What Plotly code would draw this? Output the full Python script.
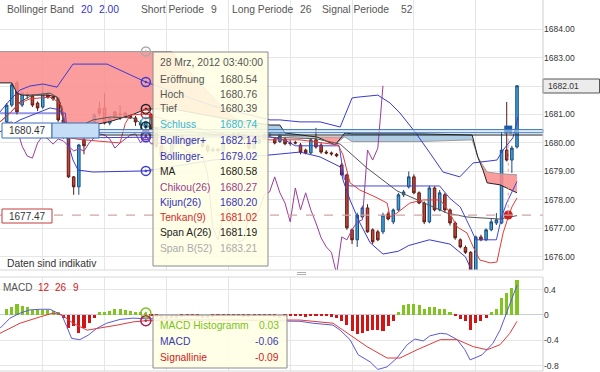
import plotly.graph_objects as go

W, H = 600, 372
PR = 543  # right edge of plot area in px


def px(x):
    return x / PR


def py(y):
    return 1 - y / H


# ---------------- data ----------------
idx = list(range(100))
opens = [1680.74, 1681.33, 1682.11, 1681.33, 1681.66, 1681.65, 1681.40, 1681.26, 1681.72, 1681.61,
         1681.58, 1680.81, 1680.18, 1678.81, 1678.46, 1680.11, 1680.40, 1680.70, 1681.20, 1681.23,
         1680.70, 1681.09, 1681.02, 1681.05, 1680.95, 1680.88, 1680.63, 1680.54, 1681.00, 1680.50,
         1679.89, 1679.54, 1679.47, 1680.00, 1680.25, 1680.14, 1679.96, 1680.14, 1680.07, 1679.89,
         1679.72, 1679.79, 1679.72, 1680.00, 1680.18, 1680.32, 1680.28, 1680.14, 1679.82, 1680.00,
         1680.14, 1680.28, 1680.14, 1680.05, 1680.14, 1680.00, 1680.02, 1679.93, 1679.75, 1679.65,
         1680.11, 1679.93, 1679.68, 1679.65, 1679.60, 1679.23, 1678.88, 1676.95, 1676.60, 1677.40,
         1677.72, 1676.95, 1676.88, 1676.88, 1677.51, 1677.23, 1677.65, 1678.18, 1678.46, 1678.81,
         1678.25, 1677.89, 1677.23, 1678.42, 1677.65, 1678.18, 1677.65, 1677.19, 1676.60, 1676.33,
         1676.16, 1675.30, 1676.70, 1676.60, 1676.95, 1677.19, 1677.19, 1679.75, 1679.40, 1679.86]
highs = [1681.40, 1682.11, 1682.18, 1681.80, 1681.78, 1681.70, 1681.46, 1682.08, 1681.80, 1681.70,
         1681.62, 1680.90, 1680.22, 1678.84, 1679.97, 1680.18, 1680.50, 1681.05, 1681.44, 1681.75,
         1680.88, 1681.12, 1681.33, 1681.09, 1681.00, 1680.95, 1680.80, 1680.76, 1681.05, 1680.55,
         1679.95, 1679.62, 1680.08, 1680.32, 1680.30, 1680.20, 1680.20, 1680.18, 1680.10, 1679.94,
         1679.86, 1679.84, 1680.06, 1680.24, 1680.40, 1680.38, 1680.32, 1680.18, 1680.06, 1680.20,
         1680.34, 1680.38, 1680.20, 1680.32, 1680.20, 1680.10, 1680.08, 1680.00, 1679.80, 1680.15,
         1680.53, 1680.00, 1679.75, 1679.70, 1679.65, 1679.30, 1678.92, 1677.00, 1677.55, 1677.80,
         1677.85, 1677.00, 1676.95, 1677.55, 1677.60, 1677.70, 1678.25, 1678.35, 1679.00, 1678.90,
         1678.30, 1677.95, 1678.50, 1678.48, 1678.35, 1678.25, 1677.70, 1677.25, 1676.65, 1676.40,
         1676.20, 1676.75, 1676.78, 1677.00, 1677.35, 1677.54, 1680.39, 1681.44, 1679.90, 1682.01]
lows = [1680.70, 1681.26, 1681.00, 1681.26, 1681.55, 1681.26, 1681.12, 1681.20, 1681.55, 1681.48,
        1680.74, 1680.15, 1678.77, 1678.18, 1678.18, 1679.60, 1680.20, 1680.65, 1680.95, 1680.65,
        1680.62, 1680.85, 1680.81, 1680.88, 1680.85, 1680.60, 1680.50, 1680.39, 1680.45, 1679.82,
        1679.48, 1679.40, 1679.42, 1679.95, 1680.08, 1679.90, 1679.92, 1680.00, 1679.84, 1679.66,
        1679.68, 1679.65, 1679.70, 1679.96, 1680.12, 1680.22, 1680.08, 1679.76, 1679.78, 1679.96,
        1680.10, 1680.22, 1679.95, 1680.00, 1679.92, 1679.90, 1679.95, 1679.60, 1679.60, 1679.60,
        1679.80, 1679.62, 1679.60, 1679.55, 1679.50, 1678.85, 1676.95, 1676.45, 1676.35, 1677.35,
        1676.85, 1676.45, 1676.55, 1676.80, 1677.28, 1677.15, 1677.60, 1678.10, 1678.40, 1678.20,
        1677.85, 1677.15, 1677.18, 1677.60, 1677.60, 1677.55, 1677.10, 1676.60, 1676.30, 1676.10,
        1675.30, 1675.20, 1676.55, 1676.55, 1676.90, 1677.12, 1677.15, 1679.35, 1678.95, 1679.80]
closes = [1681.33, 1682.04, 1681.09, 1681.75, 1681.68, 1681.33, 1681.23, 1681.75, 1681.61, 1681.55,
          1680.81, 1680.25, 1678.81, 1678.46, 1679.93, 1679.90, 1680.45, 1680.98, 1681.05, 1680.70,
          1680.88, 1680.91, 1681.00, 1680.91, 1680.88, 1680.74, 1680.70, 1680.74, 1680.50, 1679.89,
          1679.54, 1679.47, 1680.00, 1680.25, 1680.14, 1679.96, 1680.14, 1680.07, 1679.89, 1679.72,
          1679.79, 1679.72, 1680.00, 1680.18, 1680.32, 1680.28, 1680.14, 1679.82, 1680.00, 1680.14,
          1680.28, 1680.32, 1680.00, 1680.27, 1679.97, 1679.98, 1680.00, 1679.68, 1679.65, 1680.11,
          1679.86, 1679.68, 1679.65, 1679.62, 1679.55, 1678.88, 1677.02, 1676.60, 1677.47, 1677.72,
          1676.88, 1676.53, 1676.60, 1677.47, 1677.33, 1677.65, 1678.18, 1678.28, 1678.81, 1678.25,
          1677.89, 1677.23, 1678.42, 1677.65, 1678.25, 1677.65, 1677.19, 1676.67, 1676.35, 1676.16,
          1675.40, 1676.70, 1676.60, 1676.95, 1677.23, 1677.30, 1679.75, 1679.40, 1679.82, 1682.01]

# Bollinger bands (read points: candle index, price)
boll_up_x = [-1.29, 0.65, 2.59, 4.53, 7.05, 9.77, 10.7, 12.87, 19.47, 23.93, 27, 40, 51.08, 53.0, 56.9,
             60.8, 64.7, 67.0, 68.15, 72.0, 74.4, 76.3, 79.2, 82.1, 84.65, 87.9, 90.5, 95.1, 96.3, 98.2, 99.2]
boll_up_y = [1681.09, 1681.51, 1681.86, 1682.00, 1682.07, 1681.96, 1682.21, 1682.77, 1682.77, 1682.39,
             1682.14, 1681.30, 1680.81, 1680.81, 1680.74, 1680.74, 1680.56, 1681.58, 1681.61, 1681.68,
             1681.40, 1681.05, 1680.39, 1679.65, 1678.98, 1678.81, 1679.30, 1679.40, 1679.75, 1680.18, 1680.91]
boll_lo_x = [-1.29, 2.59, 6.47, 8.41, 10.35, 10.93, 11.9, 12.87, 13.84, 16.75, 27, 40, 51.08, 56.9,
             60.8, 64.7, 65.25, 66.6, 68.5, 70.5, 73.0, 76.0, 78.0, 82.0, 86.0, 89.0, 90.5, 92.0, 96.0, 99.0]
boll_lo_y = [1680.39, 1680.81, 1681.09, 1681.23, 1681.16, 1680.91, 1680.00, 1679.40, 1679.05, 1678.98,
             1679.02, 1679.40, 1679.58, 1679.68, 1679.51, 1679.16, 1678.70, 1678.00, 1677.20, 1676.50,
             1676.10, 1676.20, 1676.40, 1676.60, 1676.45, 1676.00, 1675.40, 1675.00, 1675.20, 1675.50]

ma_x = [-1.29, 0.65, 2.59, 5.0, 8.41, 9.77, 10.35, 10.93, 11.9, 13.84, 16.75, 20.05, 24.5, 27, 40, 51,
        60, 64.7, 69.9, 75.7, 81.5, 85.4, 89.3, 95.7, 99]
ma_y = [1680.74, 1681.05, 1681.44, 1681.68, 1681.75, 1681.61, 1681.40, 1680.81, 1680.39, 1680.56,
        1680.81, 1680.91, 1680.88, 1680.58, 1680.30, 1680.20, 1680.15, 1679.96, 1679.12, 1678.32,
        1677.85, 1677.54, 1677.40, 1677.33, 1677.45]

tenkan_x = [-1.29, 0.65, 2.59, 4.53, 8.41, 9.77, 10.7, 11.9, 13.84, 22.0, 23.0, 24.0, 27, 35, 45, 51.08,
            56.9, 60.2, 64.3, 65.25, 66.6, 68.5, 71.45, 73.8, 74.4, 75.7, 78.2, 80.8, 84.1, 85.6, 87.4,
            89.3, 90.5, 91.8, 93.8, 95.1, 96.3, 97.3, 98.0, 99.0]
tenkan_y = [1680.74, 1681.05, 1681.40, 1681.55, 1681.61, 1681.47, 1681.30, 1680.20, 1680.13, 1680.00,
            1680.68, 1680.98, 1681.02, 1680.60, 1680.20, 1680.11, 1680.11, 1680.04, 1679.93, 1679.58,
            1678.60, 1678.35, 1678.11, 1677.89, 1677.40, 1677.54, 1677.89, 1678.00, 1678.00, 1677.65,
            1677.05, 1676.84, 1676.35, 1675.89, 1675.79, 1675.82, 1676.84, 1677.40, 1677.75, 1678.07]

kijun_x = [-1.29, 11.4, 11.6, 12.5, 27, 51, 54, 56, 64.5, 65.5, 66.5, 84, 86, 88, 90, 91, 95, 96, 97, 99]
kijun_y = [1681.05, 1681.05, 1680.60, 1680.18, 1680.20, 1680.22, 1680.10, 1679.90, 1679.90, 1678.74,
           1678.49, 1678.49, 1678.05, 1677.75, 1677.00, 1676.60, 1676.60, 1677.40, 1677.90, 1678.65]

# Ichimoku cloud (span A / span B)
cloud_x = [-1.29, 1.0, 2.0, 3.0, 5.0, 8.0, 9.8, 10.4, 11.0, 11.9, 13.8, 16.8, 20.0, 24.5, 27.0,
           32, 38, 44, 51.1, 53.0, 54.0, 57.0, 60.2, 63.7, 65.6, 67.0, 80.0, 90.3, 91.4, 92.4, 93.2, 95.7, 99.0]
span_a = [1682.11, 1682.11, 1681.75, 1681.68, 1681.68, 1681.68, 1681.61, 1681.40, 1680.81, 1680.63,
          1680.63, 1680.63, 1680.75, 1681.00, 1681.19, 1681.20, 1681.00, 1680.80, 1680.63, 1680.63,
          1680.35, 1680.28, 1680.21, 1679.93, 1680.35, 1680.32, 1680.32, 1680.28, 1679.50, 1679.05,
          1678.60, 1678.53, 1678.25]
span_b = [1683.21, 1683.21, 1683.21, 1683.21, 1683.21, 1683.21, 1683.21, 1683.21, 1683.21, 1683.21,
          1683.21, 1683.21, 1683.21, 1683.21, 1683.21, 1683.21, 1682.00, 1680.90, 1680.28, 1680.28,
          1680.25, 1680.21, 1680.21, 1680.21, 1680.21, 1680.05, 1680.05, 1680.11, 1679.51, 1679.20,
          1678.98, 1678.92, 1678.88]

# MACD panel
macd_hist = [0.09, 0.13, 0.17, 0.14, 0.12, 0.08, 0.08, 0.08, 0.08, 0.07, 0.05,
             -0.05, -0.20, -0.17, -0.28, -0.20, -0.13, -0.04,
             0.04, 0.05, 0.07, 0.09, 0.09, 0.08, 0.07, 0.05, 0.04, 0.03,
             -0.02, -0.03, -0.05, -0.06, -0.05, -0.04, -0.03, -0.02, -0.02, -0.03, -0.04, -0.04,
             -0.03, -0.02, -0.01, -0.01, -0.02, -0.02, -0.03, -0.03, -0.02, -0.02, -0.01, -0.01,
             -0.03, -0.04, -0.03, -0.02, -0.02, -0.02, -0.03, -0.02, -0.02, -0.02, -0.02, -0.03, -0.05,
             -0.10, -0.16, -0.26, -0.30, -0.28, -0.26, -0.24, -0.23, -0.26, -0.18, -0.10,
             0.04, 0.16, 0.18, 0.18, 0.16, 0.09, 0.13, 0.12, 0.10, 0.10, 0.05,
             -0.02, -0.07, -0.10, -0.23, -0.13, -0.09, -0.04,
             0.04, 0.09, 0.27, 0.34, 0.42, 0.56]
macd_x = [-1.29, 0.65, 2.6, 4.5, 6.5, 8.4, 9.4, 10.7, 11.65, 12.6, 14.2, 15.8, 17.5, 19.4, 22.0, 24.5, 27,
          40, 50, 56.9, 59.4, 63.3, 64.7, 66.6, 68.2, 70.5, 72.0, 73.8, 75.7, 77.7, 79.2, 80.8, 82.1,
          84.1, 85.4, 87.4, 88.9, 89.9, 92.2, 94.3, 95.7, 97.1, 98.2, 99]
macd_y = [-0.21, -0.05, 0.03, 0.08, 0.09, 0.09, 0.05, 0.00, -0.18, -0.37, -0.39, -0.32, -0.21, -0.13,
          -0.07, -0.05, -0.06, -0.08, -0.09, -0.10, -0.13, -0.16, -0.24, -0.39, -0.63, -0.74, -0.86,
          -0.82, -0.68, -0.47, -0.38, -0.41, -0.33, -0.29, -0.30, -0.39, -0.55, -0.71, -0.63, -0.45,
          -0.24, 0.05, 0.29, 0.47]
signal_x = [-1.29, 2.6, 6.5, 9.0, 10.7, 12.9, 15.6, 18.1, 21.4, 24.5, 27, 40, 50, 56.9, 63.3, 66.6,
            69.9, 73.8, 76.3, 79.6, 84.1, 87.4, 90.5, 93.2, 95.7, 97.6, 99]
signal_y = [-0.29, -0.13, -0.03, 0.03, 0.00, -0.13, -0.24, -0.21, -0.16, -0.11, -0.09, -0.08, -0.08,
            -0.08, -0.13, -0.32, -0.50, -0.68, -0.68, -0.55, -0.39, -0.39, -0.50, -0.55, -0.47, -0.29, -0.10]

# tooltip contents
tt_date = "28 Mrz, 2012 03:40:00"
tt_labels = ["Eröffnung", "Hoch", "Tief", "Schluss", "Bollinger+", "Bollinger-", "MA",
             "Chikou(26)", "Kijun(26)", "Tenkan(9)", "Span A(26)", "Span B(52)"]
tt_values = [1680.54, 1680.76, 1680.39, 1680.74, 1682.14, 1679.02, 1680.58,
             1680.27, 1680.20, 1681.02, 1681.19, 1683.21]
tt_colors = ["#555555", "#555555", "#555555", "#33b8d8", "#3333bb", "#3333bb", "#222222",
             "#993d8f", "#3333bb", "#d42a2a", "#222222", "#aaaaaa"]
hover_idx = 27
macd_tt_labels = ["MACD Histogramm", "MACD", "Signallinie"]
macd_tt_values = [0.03, -0.06, -0.09]
macd_tt_colors = ["#7cc11a", "#3a3ab0", "#d02020"]

cross_price = 1680.47
line2_price = 1677.47
last_price = 1682.01
cross_idx = 97.3

yticks_main = [1676, 1677, 1678, 1679, 1680, 1681, 1682, 1683, 1684, 1685]
ytick_text = ["1676.00", "1677.00", "1678.00", "1679.00", "1680.00", "1681.00", "", "1683.00", "1684.00", ""]
yticks_macd = [0.4, 0, -0.4, -0.8]
ytick_macd_text = ["0.4", "0", "-0.4", "-0.8"]

FONT = "Liberation Sans, Arial, sans-serif"
BLUE = "#3a3ad2"
fig = go.Figure()

# cloud fill (red where span B above span A, blue where A above B)
lower = [min(a, b) for a, b in zip(span_a, span_b)]
fig.add_trace(go.Scatter(x=cloud_x, y=lower, mode="lines", line=dict(width=0), hoverinfo="skip", showlegend=False))
fig.add_trace(go.Scatter(x=cloud_x, y=span_b, mode="lines", line=dict(width=0), fill="tonexty",
                         fillcolor="rgba(250,140,140,0.85)", hoverinfo="skip", showlegend=False))
fig.add_trace(go.Scatter(x=cloud_x, y=lower, mode="lines", line=dict(width=0), hoverinfo="skip", showlegend=False))
fig.add_trace(go.Scatter(x=cloud_x, y=span_a, mode="lines", line=dict(width=0), fill="tonexty",
                         fillcolor="rgba(120,170,210,0.6)", hoverinfo="skip", showlegend=False))
fig.add_trace(go.Scatter(x=cloud_x, y=span_b, mode="lines", line=dict(color="#9a9a9a", width=1), showlegend=False))
fig.add_trace(go.Scatter(x=cloud_x, y=span_a, mode="lines", line=dict(color="#222222", width=1), showlegend=False))

# indicator lines
fig.add_trace(go.Scatter(x=idx[:74], y=closes[26:], mode="lines", line=dict(color="#9b3c9b", width=1), showlegend=False))
fig.add_trace(go.Scatter(x=boll_up_x, y=boll_up_y, mode="lines", line=dict(color=BLUE, width=1), showlegend=False))
fig.add_trace(go.Scatter(x=boll_lo_x, y=boll_lo_y, mode="lines", line=dict(color=BLUE, width=1), showlegend=False))
fig.add_trace(go.Scatter(x=ma_x, y=ma_y, mode="lines", line=dict(color="#555555", width=1), showlegend=False))
fig.add_trace(go.Scatter(x=kijun_x, y=kijun_y, mode="lines", line=dict(color="#4646d8", width=1), showlegend=False))
fig.add_trace(go.Scatter(x=tenkan_x, y=tenkan_y, mode="lines", line=dict(color="#e43a3a", width=1), showlegend=False))

fig.add_trace(go.Candlestick(x=idx, open=opens, high=highs, low=lows, close=closes,
                             increasing=dict(line=dict(color="#1c4a78", width=1), fillcolor="#3ea2dc"),
                             decreasing=dict(line=dict(color="#5e1a12", width=1), fillcolor="#c0443a"),
                             whiskerwidth=0, showlegend=False))

# hover markers at the tooltip candle
mk_vals = [tt_values[11], tt_values[4], tt_values[10], tt_values[9], tt_values[3], tt_values[6],
           tt_values[7], tt_values[8], tt_values[5]]
mk_cols = ["#aaaaaa", BLUE, "#222222", "#d42a2a", "#33b8d8", "#222222", "#993d8f", BLUE, BLUE]
fig.add_trace(go.Scatter(x=[hover_idx] * len(mk_vals), y=mk_vals, mode="markers",
                         marker=dict(symbol="circle-open-dot", size=9, color=mk_cols, line=dict(width=1.5)),
                         showlegend=False))
# crosshair markers
fig.add_trace(go.Scatter(x=[cross_idx], y=[cross_price], mode="markers",
                         marker=dict(symbol="square", size=8, color="#1f5aa6"), showlegend=False))
fig.add_trace(go.Scatter(x=[cross_idx], y=[line2_price], mode="markers",
                         marker=dict(symbol="circle", size=9, color="#c81e1e"), showlegend=False))

# MACD panel
hist_cols = ["#80c420" if v >= 0 else "#d41414" for v in macd_hist]
fig.add_trace(go.Bar(x=idx, y=macd_hist, marker=dict(color=hist_cols, line=dict(width=0)), width=0.6,
                     xaxis="x2", yaxis="y2", showlegend=False))
fig.add_trace(go.Scatter(x=macd_x, y=macd_y, mode="lines", line=dict(color="#5a5ad8", width=1),
                         xaxis="x2", yaxis="y2", showlegend=False))
fig.add_trace(go.Scatter(x=signal_x, y=signal_y, mode="lines", line=dict(color="#e03a3a", width=1),
                         xaxis="x2", yaxis="y2", showlegend=False))
fig.add_trace(go.Scatter(x=[hover_idx, hover_idx], y=[macd_tt_values[0], macd_tt_values[2]], mode="markers",
                         marker=dict(symbol="circle-open-dot", size=10, color=["#7cc11a", "#b02050"],
                                     line=dict(width=1.5)),
                         xaxis="x2", yaxis="y2", showlegend=False))

XR = [-1.29, 104.04]
grid_x = [7, 19, 31, 43, 55, 67, 79, 91]
GRID = "#e6e6e6"
fig.update_layout(
    width=W, height=H, margin=dict(l=0, r=W - PR, t=0, b=0),
    paper_bgcolor="white", plot_bgcolor="white", showlegend=False, bargap=0,
    font=dict(family=FONT, size=10, color="#444"),
    xaxis=dict(domain=[0, 1], range=XR, tickvals=grid_x, showticklabels=False, showgrid=True,
               gridcolor=GRID, zeroline=False, rangeslider=dict(visible=False), anchor="y", ticks=""),
    yaxis=dict(domain=[py(270), 1], range=[1675.54, 1685.02], side="right", tickvals=yticks_main,
               ticktext=ytick_text, showgrid=True, gridcolor=GRID, zeroline=False, ticks="",
               tickfont=dict(size=8.5, color="#333"), anchor="x"),
    xaxis2=dict(domain=[0, 1], range=XR, tickvals=grid_x, showticklabels=False, showgrid=True,
                gridcolor=GRID, zeroline=False, anchor="y2", ticks=""),
    yaxis2=dict(domain=[py(371), py(277)], range=[-0.885, 0.6], side="right", tickvals=yticks_macd,
                ticktext=ytick_macd_text, showgrid=True, gridcolor=GRID, zeroline=True,
                zerolinecolor="#c6cfdc", zerolinewidth=1, ticks="",
                tickfont=dict(size=8.5, color="#333"), anchor="x2"),
)

shapes = []
# crosshair / price lines
shapes.append(dict(type="line", xref="x", yref="y", x0=XR[0], x1=XR[1], y0=line2_price, y1=line2_price,
                   line=dict(color="#cfa5a5", width=1.2, dash="dash"), layer="above"))
shapes.append(dict(type="rect", xref="paper", yref="y", x0=px(99), x1=1, y0=cross_price - 0.11, y1=cross_price,
                   fillcolor="rgba(200,222,245,0.6)", line=dict(color="#3a78b8", width=1), layer="above"))
shapes.append(dict(type="line", xref="paper", yref="y", x0=px(99), x1=1, y0=cross_price - 0.19,
                   y1=cross_price - 0.19, line=dict(color="#222", width=1), layer="above"))
shapes.append(dict(type="line", xref="x", yref="y", x0=cross_idx, x1=cross_idx, y0=cross_price - 0.11,
                   y1=line2_price, line=dict(color="#e6a0a0", width=1, dash="dot"), layer="above"))
# left price boxes
shapes.append(dict(type="rect", xref="paper", yref="paper", x0=px(2), x1=px(52), y0=py(138), y1=py(123),
                   fillcolor="white", line=dict(color="#3a70b5", width=1), layer="above"))
shapes.append(dict(type="rect", xref="paper", yref="paper", x0=px(52), x1=px(99), y0=py(138), y1=py(123),
                   fillcolor="#c6ddf6", line=dict(color="#3a70b5", width=1), layer="above"))
shapes.append(dict(type="rect", xref="paper", yref="paper", x0=px(2), x1=px(52), y0=py(223), y1=py(209),
                   fillcolor="white", line=dict(color="#c43a3a", width=1), layer="above"))
# right last price box
shapes.append(dict(type="rect", xref="paper", yref="paper", x0=px(543), x1=px(599.5), y0=py(93), y1=py(79),
                   fillcolor="#ececec", line=dict(color="#555", width=1), layer="above"))
# panel borders
shapes.append(dict(type="line", xref="paper", yref="paper", x0=1, x1=1, y0=py(270), y1=1,
                   line=dict(color="#cfcfcf", width=1), layer="above"))
shapes.append(dict(type="line", xref="paper", yref="paper", x0=0, x1=1, y0=py(270), y1=py(270),
                   line=dict(color="#d8d8d8", width=1), layer="above"))
shapes.append(dict(type="line", xref="paper", yref="paper", x0=0, x1=1, y0=py(277), y1=py(277),
                   line=dict(color="#d8d8d8", width=1), layer="above"))
shapes.append(dict(type="line", xref="paper", yref="paper", x0=1, x1=1, y0=py(371), y1=py(277),
                   line=dict(color="#cfcfcf", width=1), layer="above"))
shapes.append(dict(type="line", xref="paper", yref="paper", x0=0, x1=1, y0=py(371), y1=py(371),
                   line=dict(color="#d8d8d8", width=1), layer="above"))
# splitter grip
for gy in (272.5, 274.5):
    shapes.append(dict(type="line", xref="paper", yref="paper", x0=px(297), x1=px(306), y0=py(gy), y1=py(gy),
                       line=dict(color="#b0b0b0", width=1), layer="above"))
# tooltips
shapes.append(dict(type="rect", xref="paper", yref="paper", x0=px(153), x1=px(268), y0=py(266), y1=py(52),
                   fillcolor="rgba(255,255,228,0.88)", line=dict(color="#8a8a8a", width=1), layer="above"))
shapes.append(dict(type="rect", xref="paper", yref="paper", x0=px(153), x1=px(287), y0=py(368), y1=py(315),
                   fillcolor="rgba(255,255,228,0.9)", line=dict(color="#8a8a8a", width=1), layer="above"))

ann = []


def text(x, y, s, color="#555", size=10.3, anchor="left"):
    ann.append(dict(xref="paper", yref="paper", x=px(x), y=py(y), text=s, showarrow=False,
                    xanchor=anchor, yanchor="middle", font=dict(family=FONT, size=size, color=color),
                    borderpad=0))


# header
text(6, 10, "Bollinger Band")
text(80, 10, "20", "#3535c8")
text(98, 10, "2.00", "#3535c8")
text(140, 10, "Short Periode")
text(210, 10, "9")
text(231, 10, "Long Periode")
text(299, 10, "26")
text(321, 10, "Signal Periode")
text(400, 10, "52")
text(6, 263, "Daten sind indikativ", "#333")
# MACD label
text(2, 287, "MACD", "#555", 10)
text(37, 287, "12", "#d02020", 10)
text(54, 287, "26", "#d02020", 10)
text(72, 287, "9", "#d02020", 10)
# price boxes
text(27, 130.5, f"{cross_price:.2f}", "#333", 10, "center")
text(27, 216, f"{line2_price:.2f}", "#333", 10, "center")
text(547, 86, f"{last_price:.2f}", "#333", 8.5)
# main tooltip
text(159, 63, tt_date, "#555")
row_y = [79, 94, 109, 125, 140, 156, 171, 187, 202, 217, 232, 248]
for lab, val, col, yy in zip(tt_labels, tt_values, tt_colors, row_y):
    text(159, yy, lab, col)
    text(258, yy, f"{val:.2f}", col, anchor="right")
# macd tooltip
for lab, val, col, yy in zip(macd_tt_labels, macd_tt_values, macd_tt_colors, [325, 341, 357]):
    text(159, yy, lab, col)
    text(280, yy, f"{val:.2f}", col, anchor="right")

fig.update_layout(shapes=shapes, annotations=ann)
fig.write_html("out.html")
